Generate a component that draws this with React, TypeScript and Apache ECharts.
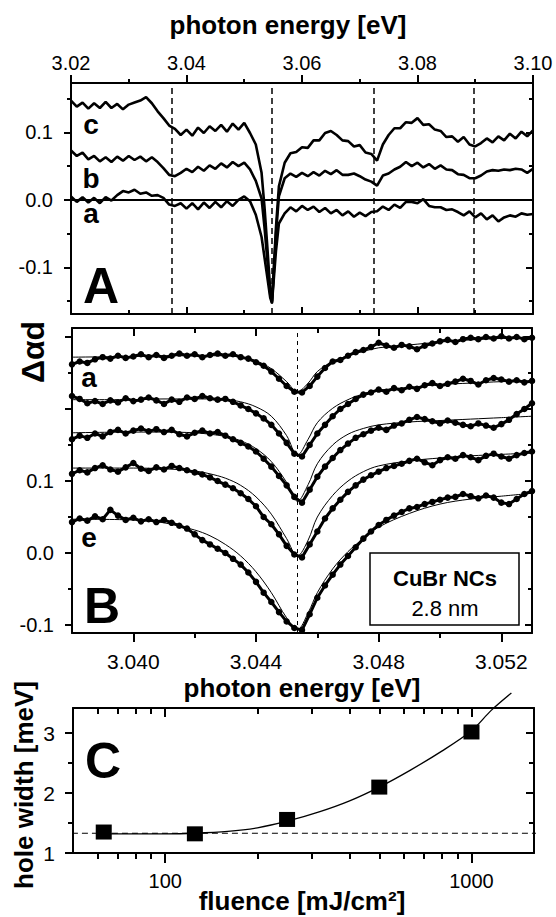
import React, { useEffect, useRef } from 'react';
import * as echarts from 'echarts';

const FONT = '"Liberation Sans", Arial, Helvetica, sans-serif';

// ---------- Panel A ----------
const aEnergy = [
  3.020, 3.021, 3.022, 3.023, 3.024, 3.025, 3.026, 3.027, 3.028, 3.029,
  3.030, 3.031, 3.032, 3.033, 3.034, 3.035, 3.036, 3.037, 3.038, 3.039,
  3.040, 3.041, 3.042, 3.043, 3.044, 3.045, 3.046, 3.047, 3.048, 3.049,
  3.050, 3.051, 3.052, 3.053,
  3.0535, 3.054, 3.0545, 3.0548, 3.055, 3.0555,
  3.056, 3.057, 3.058, 3.059, 3.060, 3.061, 3.062, 3.063, 3.064, 3.065,
  3.066, 3.067, 3.068, 3.069, 3.070, 3.071, 3.072, 3.073, 3.074, 3.075,
  3.076, 3.077, 3.078, 3.079, 3.080, 3.081, 3.082, 3.083, 3.084, 3.085,
  3.086, 3.087, 3.088, 3.089, 3.090, 3.091, 3.092, 3.093, 3.094, 3.095,
  3.096, 3.097, 3.098, 3.099, 3.100,
];
const aCurveC = [
  0.147, 0.138, 0.144, 0.135, 0.143, 0.136, 0.145, 0.136, 0.142, 0.134,
  0.141, 0.144, 0.147, 0.152, 0.143, 0.131, 0.121, 0.110, 0.105, 0.096,
  0.104, 0.095, 0.107, 0.099, 0.109, 0.102, 0.111, 0.101, 0.113, 0.104,
  0.114, 0.099, 0.082, 0.040,
  -0.010, -0.070, -0.135, -0.150, -0.120, -0.040,
  0.020, 0.055, 0.069, 0.071, 0.078, 0.077, 0.088, 0.088, 0.099, 0.102,
  0.096, 0.088, 0.087, 0.079, 0.081, 0.070, 0.068, 0.058, 0.082, 0.096,
  0.106, 0.106, 0.115, 0.114, 0.121, 0.111, 0.112, 0.104, 0.102, 0.093,
  0.094, 0.086, 0.093, 0.082, 0.079, 0.084, 0.091, 0.085, 0.094, 0.088,
  0.098, 0.091, 0.101, 0.094, 0.103,
];
const aCurveB = [
  0.073, 0.065, 0.070, 0.060, 0.065, 0.057, 0.063, 0.056, 0.064, 0.058,
  0.065, 0.059, 0.064, 0.057, 0.063, 0.056, 0.047, 0.037, 0.035, 0.040,
  0.046, 0.041, 0.049, 0.043, 0.051, 0.046, 0.054, 0.048, 0.056, 0.050,
  0.055, 0.045, 0.028, 0.002,
  -0.040, -0.090, -0.140, -0.152, -0.125, -0.050,
  0.005, 0.032, 0.039, 0.034, 0.040, 0.035, 0.041, 0.036, 0.043, 0.038,
  0.044, 0.037, 0.037, 0.039, 0.035, 0.030, 0.027, 0.021, 0.036, 0.039,
  0.045, 0.049, 0.056, 0.050, 0.055, 0.048, 0.053, 0.046, 0.051, 0.045,
  0.044, 0.038, 0.037, 0.032, 0.032, 0.036, 0.042, 0.044, 0.043, 0.045,
  0.044, 0.046, 0.045, 0.040, 0.046,
];
const aCurveA = [
  0.005, -0.003, 0.004, -0.004, 0.003, -0.005, 0.004, -0.001, 0.007, 0.013,
  0.011, 0.015, 0.009, 0.011, 0.006, 0.007, 0.003, -0.007, -0.009, -0.005,
  -0.013, -0.005, -0.014, -0.004, -0.012, -0.003, -0.011, -0.002, -0.009, 0.000,
  0.005, -0.002, -0.022, -0.055,
  -0.085, -0.115, -0.145, -0.153, -0.130, -0.075,
  -0.035, -0.020, -0.011, -0.017, -0.009, -0.015, -0.010, -0.018, -0.012, -0.020,
  -0.015, -0.023, -0.017, -0.025, -0.019, -0.024, -0.018, -0.017, -0.010, -0.015,
  -0.007, -0.012, -0.003, -0.003, -0.005, 0.001, -0.009, -0.011, -0.011, -0.015,
  -0.014, -0.018, -0.023, -0.017, -0.026, -0.020, -0.029, -0.023, -0.032, -0.026,
  -0.023, -0.025, -0.020, -0.022, -0.021,
];
const aDashedLines = [3.0375, 3.0548, 3.0725, 3.0897];
const aXTicks = [3.02, 3.04, 3.06, 3.08, 3.10];
const aXMinor = [3.03, 3.05, 3.07, 3.09];
const aYTicks = [-0.1, 0.0, 0.1];
const aYMinor = [-0.15, -0.05, 0.05, 0.15];

// ---------- Panel B ----------
const bEnergy = [
  3.038, 3.03825, 3.0385, 3.03875, 3.039, 3.03925, 3.0395, 3.03975,
  3.040, 3.04025, 3.0405, 3.04075, 3.041, 3.04125, 3.0415, 3.04175,
  3.042, 3.04225, 3.0425, 3.04275, 3.043, 3.04325, 3.0435, 3.04375,
  3.044, 3.04425, 3.0445, 3.04475, 3.045, 3.04525, 3.0455, 3.04575,
  3.046, 3.04625, 3.0465, 3.04675, 3.047, 3.04725, 3.0475, 3.04775,
  3.048, 3.04825, 3.0485, 3.04875, 3.049, 3.04925, 3.0495, 3.04975,
  3.050, 3.05025, 3.0505, 3.05075, 3.051, 3.05125, 3.0515, 3.05175,
  3.052, 3.05225, 3.0525, 3.05275, 3.053,
];
const bCurveA = [
  0.262, 0.266, 0.264, 0.269, 0.272, 0.270, 0.274, 0.271, 0.273, 0.276,
  0.272, 0.275, 0.271, 0.274, 0.277, 0.274, 0.276, 0.272, 0.275, 0.277,
  0.274, 0.276, 0.272, 0.270, 0.265, 0.260, 0.252, 0.242, 0.232, 0.224,
  0.223, 0.232, 0.245, 0.257, 0.266, 0.268, 0.274, 0.279, 0.282, 0.286,
  0.292, 0.288, 0.285, 0.289, 0.287, 0.283, 0.288, 0.291, 0.294, 0.296,
  0.293, 0.297, 0.299, 0.297, 0.300, 0.298, 0.301, 0.298, 0.300, 0.297,
  0.299,
];
const bCurveB = [
  0.218, 0.214, 0.208, 0.211, 0.207, 0.212, 0.209, 0.215, 0.211, 0.213,
  0.216, 0.212, 0.207, 0.213, 0.210, 0.216, 0.214, 0.218, 0.215, 0.213,
  0.214, 0.210, 0.205, 0.200, 0.194, 0.187, 0.178, 0.166, 0.153, 0.138,
  0.134, 0.150, 0.166, 0.178, 0.190, 0.200, 0.207, 0.214, 0.220, 0.223,
  0.227, 0.224, 0.229, 0.226, 0.231, 0.228, 0.233, 0.236, 0.232, 0.235,
  0.238, 0.242, 0.239, 0.234, 0.240, 0.243, 0.241, 0.238, 0.240, 0.237,
  0.239,
];
const bCurveC = [
  0.158, 0.163, 0.160, 0.166, 0.162, 0.168, 0.171, 0.166, 0.170, 0.173,
  0.169, 0.172, 0.168, 0.171, 0.165, 0.162, 0.167, 0.170, 0.166, 0.168,
  0.163, 0.158, 0.153, 0.148, 0.141, 0.131, 0.120, 0.107, 0.094, 0.078,
  0.070, 0.088, 0.106, 0.120, 0.132, 0.143, 0.152, 0.160, 0.165, 0.170,
  0.174, 0.171, 0.177, 0.180, 0.185, 0.189, 0.186, 0.183, 0.180, 0.184,
  0.181, 0.178, 0.176, 0.180, 0.177, 0.174, 0.179, 0.185, 0.193, 0.200,
  0.208,
];
const bCurveD = [
  0.110, 0.115, 0.112, 0.118, 0.122, 0.116, 0.113, 0.119, 0.125, 0.117,
  0.114, 0.119, 0.116, 0.121, 0.118, 0.115, 0.112, 0.109, 0.105, 0.100,
  0.095, 0.090, 0.083, 0.075, 0.065, 0.050, 0.040, 0.026, 0.010, -0.002,
  -0.006, 0.012, 0.030, 0.048, 0.062, 0.074, 0.085, 0.094, 0.102, 0.108,
  0.113, 0.118, 0.121, 0.124, 0.128, 0.131, 0.126, 0.122, 0.129, 0.133,
  0.131, 0.136, 0.133, 0.129, 0.135, 0.138, 0.134, 0.131, 0.136, 0.139,
  0.141,
];
const bCurveE = [
  0.043, 0.048, 0.045, 0.051, 0.047, 0.060, 0.052, 0.046, 0.049, 0.044,
  0.047, 0.043, 0.046, 0.042, 0.038, 0.034, 0.026, 0.018, 0.012, 0.006,
  0.000, -0.008, -0.016, -0.027, -0.040, -0.055, -0.068, -0.082, -0.095, -0.104,
  -0.107, -0.085, -0.062, -0.045, -0.030, -0.016, -0.004, 0.008, 0.020, 0.030,
  0.039, 0.046, 0.052, 0.057, 0.062, 0.064, 0.068, 0.071, 0.074, 0.077,
  0.078, 0.082, 0.079, 0.076, 0.080, 0.077, 0.070, 0.068, 0.075, 0.082,
  0.086,
];
const bFitEnergy = [
  3.038, 3.040, 3.041, 3.042, 3.0425, 3.043, 3.0435, 3.044, 3.0445, 3.045, 3.04535,
  3.0457, 3.046, 3.0465, 3.047, 3.0475, 3.048, 3.049, 3.050, 3.051, 3.052, 3.053,
];
const bFitA = [0.272, 0.273, 0.274, 0.274, 0.274, 0.274, 0.272, 0.267, 0.256, 0.238, 0.224, 0.236, 0.252, 0.266, 0.274, 0.280, 0.285, 0.289, 0.293, 0.296, 0.298, 0.299];
const bFitB = [0.213, 0.213, 0.214, 0.214, 0.214, 0.213, 0.210, 0.203, 0.190, 0.163, 0.136, 0.158, 0.181, 0.201, 0.213, 0.221, 0.226, 0.230, 0.234, 0.236, 0.238, 0.239];
const bFitC = [0.167, 0.168, 0.168, 0.167, 0.165, 0.162, 0.156, 0.145, 0.127, 0.098, 0.072, 0.095, 0.124, 0.150, 0.165, 0.173, 0.178, 0.182, 0.184, 0.186, 0.188, 0.190];
const bFitD = [0.118, 0.118, 0.117, 0.114, 0.110, 0.104, 0.094, 0.078, 0.054, 0.020, -0.004, 0.018, 0.050, 0.080, 0.100, 0.113, 0.121, 0.128, 0.132, 0.135, 0.137, 0.139];
const bFitE = [0.047, 0.046, 0.042, 0.032, 0.024, 0.012, -0.004, -0.026, -0.055, -0.090, -0.106, -0.083, -0.055, -0.022, 0.002, 0.020, 0.036, 0.055, 0.068, 0.075, 0.079, 0.083];
const bHoleCenter = 3.04535;
const bXTicks = [3.040, 3.044, 3.048, 3.052];
const bXMinor = [3.042, 3.046, 3.050];
const bYTicks = [-0.1, 0.0, 0.1, 0.2, 0.3];
const bYLabels = [-0.1, 0.0, 0.1];
const bYMinor = [-0.05, 0.05, 0.15, 0.25];

// ---------- Panel C ----------
const cFluence = [63, 125, 250, 500, 1000];
const cHoleWidth = [1.35, 1.32, 1.56, 2.1, 3.02];
const cFitFluence = [63, 80, 100, 125, 160, 200, 250, 320, 400, 500, 630, 800, 1000, 1160, 1350];
const cFitWidth = [1.32, 1.32, 1.32, 1.33, 1.36, 1.42, 1.53, 1.69, 1.87, 2.10, 2.38, 2.70, 3.04, 3.38, 3.67];
const cBaselineFluence = [46, 1690];
const cBaselineWidth = [1.33, 1.33];
const cXTicks = [100, 1000];
const cXMinor = [60, 70, 80, 90, 200, 300, 400, 500, 600, 700, 800, 900];
const cYTicks = [1, 2, 3];
const cYMinor = [1.5, 2.5];

const zip = (xs: number[], ys: number[]) => xs.map((x, i) => [x, ys[i]]);

function axis(grid: number, position: string, min: number, max: number, o: any) {
  const type = o.type || 'value';
  const a: any = {
    type,
    gridIndex: grid,
    position,
    min,
    max,
    axisLine: { show: !!o.line, onZero: false, lineStyle: { color: '#000', width: 2 } },
    axisTick: {
      show: true,
      inside: !!o.inside,
      length: o.len,
      customValues: o.ticks,
      lineStyle: { color: '#000', width: 2 },
    },
    axisLabel: o.labels
      ? {
          show: true,
          customValues: o.labels,
          formatter: o.fmt,
          color: '#000',
          fontSize: o.fontSize || 20,
          fontFamily: FONT,
          margin: o.margin ?? 8,
        }
      : { show: false },
    splitLine: { show: false },
    minorTick: { show: false },
  };
  if (type === 'log') a.logBase = 10;
  return a;
}

export default function App() {
  const ref = useRef<HTMLDivElement>(null);
  useEffect(() => {
    document.body.style.margin = '0';
    const chart = echarts.init(ref.current!, undefined, { renderer: 'svg' });

    const grids = [
      { left: 71, top: 83, width: 462, height: 231 },
      { left: 72, top: 328, width: 460, height: 305 },
      { left: 73, top: 708, width: 461, height: 145 },
    ].map((g) => ({ ...g, containLabel: false, outerBoundsMode: 'none', show: false }));

    const aX = [3.02, 3.1];
    const aY = [-0.169, 0.173];
    const bX = [3.038, 3.053];
    const bY = [-0.111, 0.3125];
    const cX = [50, 1600];
    const cY = [1, 3.42];
    const f2 = (v: number) => v.toFixed(2);
    const f3 = (v: number) => v.toFixed(3);
    const f1 = (v: number) => v.toFixed(1);
    const fi = (v: number) => String(Math.round(v));

    const xAxis = [
      // A
      axis(0, 'bottom', aX[0], aX[1], { line: true, inside: true, len: 7, ticks: aXTicks }),
      axis(0, 'bottom', aX[0], aX[1], { inside: true, len: 4, ticks: aXMinor }),
      axis(0, 'top', aX[0], aX[1], { line: true, len: 8, ticks: aXTicks, labels: aXTicks, fmt: f2, margin: 10 }),
      axis(0, 'top', aX[0], aX[1], { len: 4, ticks: aXMinor }),
      // B
      axis(1, 'bottom', bX[0], bX[1], { line: true, len: 9, ticks: bXTicks, labels: bXTicks, fmt: f3, margin: 18, fontSize: 21 }),
      axis(1, 'bottom', bX[0], bX[1], { len: 5, ticks: bXMinor }),
      axis(1, 'top', bX[0], bX[1], { line: true, inside: true, len: 8, ticks: bXTicks }),
      axis(1, 'top', bX[0], bX[1], { inside: true, len: 5, ticks: bXMinor }),
      // C
      axis(2, 'bottom', cX[0], cX[1], { type: 'log', line: true, len: 10, ticks: cXTicks, labels: cXTicks, fmt: fi, margin: 18 }),
      axis(2, 'bottom', cX[0], cX[1], { type: 'log', len: 6, ticks: cXMinor }),
      axis(2, 'top', cX[0], cX[1], { type: 'log', line: true, inside: true, len: 9, ticks: cXTicks }),
      axis(2, 'top', cX[0], cX[1], { type: 'log', inside: true, len: 6, ticks: cXMinor }),
    ];
    const yAxis = [
      // A
      axis(0, 'left', aY[0], aY[1], { line: true, len: 7, ticks: aYTicks, labels: aYTicks, fmt: f1, margin: 18 }),
      axis(0, 'left', aY[0], aY[1], { len: 4, ticks: aYMinor }),
      axis(0, 'right', aY[0], aY[1], { line: true, inside: true, len: 7, ticks: aYTicks }),
      axis(0, 'right', aY[0], aY[1], { inside: true, len: 4, ticks: aYMinor }),
      // B
      axis(1, 'left', bY[0], bY[1], { line: true, len: 7, ticks: bYTicks, labels: bYLabels, fmt: f1, margin: 18 }),
      axis(1, 'left', bY[0], bY[1], { len: 4, ticks: bYMinor }),
      axis(1, 'right', bY[0], bY[1], { line: true, inside: true, len: 7, ticks: bYTicks }),
      axis(1, 'right', bY[0], bY[1], { inside: true, len: 4, ticks: bYMinor }),
      // C
      axis(2, 'left', cY[0], cY[1], { line: true, len: 8, ticks: cYTicks, labels: cYTicks, fmt: fi, margin: 18, fontSize: 21 }),
      axis(2, 'left', cY[0], cY[1], { len: 5, ticks: cYMinor }),
      axis(2, 'right', cY[0], cY[1], { line: true, inside: true, len: 8, ticks: cYTicks }),
      axis(2, 'right', cY[0], cY[1], { inside: true, len: 5, ticks: cYMinor }),
    ];

    const aLine = (name: string, vals: number[], extra: any = {}) => ({
      name,
      type: 'line',
      xAxisIndex: 0,
      yAxisIndex: 0,
      data: zip(aEnergy, vals),
      symbol: 'none',
      lineStyle: { color: '#000', width: 2.6 },
      z: 3,
      ...extra,
    });
    const bData = (name: string, vals: number[], extra: any = {}) => ({
      name,
      type: 'line',
      xAxisIndex: 4,
      yAxisIndex: 4,
      data: zip(bEnergy, vals),
      symbol: 'circle',
      symbolSize: 6.5,
      showSymbol: true,
      itemStyle: { color: '#000', opacity: 1 },
      lineStyle: { color: '#000', width: 3 },
      z: 3,
      ...extra,
    });
    const bFit = (name: string, vals: number[]) => ({
      name,
      type: 'line',
      xAxisIndex: 4,
      yAxisIndex: 4,
      data: zip(bFitEnergy, vals),
      symbol: 'none',
      smooth: 0.35,
      lineStyle: { color: '#000', width: 1 },
      z: 4,
    });

    const series: any[] = [
      aLine('A c', aCurveC, {
        markLine: {
          silent: true,
          symbol: 'none',
          precision: 6,
          animation: false,
          label: { show: false },
          data: [
            ...aDashedLines.map((x) => ({ xAxis: x, lineStyle: { color: '#000', width: 1.5, type: [6, 4] } })),
            { yAxis: 0, lineStyle: { color: '#000', width: 2, type: 'solid' } },
          ],
        },
      }),
      aLine('A b', aCurveB),
      aLine('A a', aCurveA),
      bData('B a', bCurveA, {
        markLine: {
          silent: true,
          symbol: 'none',
          precision: 6,
          animation: false,
          label: { show: false },
          lineStyle: { color: '#000', width: 1, type: [4, 4] },
          data: [{ xAxis: bHoleCenter }],
        },
      }),
      bData('B b', bCurveB),
      bData('B c', bCurveC),
      bData('B d', bCurveD),
      bData('B e', bCurveE),
      bFit('fit a', bFitA),
      bFit('fit b', bFitB),
      bFit('fit c', bFitC),
      bFit('fit d', bFitD),
      bFit('fit e', bFitE),
      {
        name: 'baseline',
        type: 'line',
        xAxisIndex: 8,
        yAxisIndex: 8,
        data: zip(cBaselineFluence, cBaselineWidth),
        symbol: 'none',
        clip: false,
        lineStyle: { color: '#000', width: 1.2, type: [6, 4] },
        z: 2,
      },
      {
        name: 'fit',
        type: 'line',
        xAxisIndex: 8,
        yAxisIndex: 8,
        data: zip(cFitFluence, cFitWidth),
        symbol: 'none',
        smooth: 0.3,
        clip: false,
        lineStyle: { color: '#000', width: 1.3 },
        z: 3,
      },
      {
        name: 'hole width',
        type: 'scatter',
        xAxisIndex: 8,
        yAxisIndex: 8,
        data: zip(cFluence, cHoleWidth),
        symbol: 'rect',
        symbolSize: [16, 15],
        itemStyle: { color: '#000', opacity: 1 },
        z: 5,
      },
    ];

    const txt = (text: string, x: number, y: number, font: string, extra: any = {}) => ({
      type: 'text',
      x,
      y,
      z: 20,
      silent: true,
      style: { text, font, fill: '#000', align: 'center', verticalAlign: 'middle' },
      ...extra,
    });
    const bold = (s: number) => `bold ${s}px ${FONT}`;
    const reg = (s: number) => `${s}px ${FONT}`;

    const graphic: any[] = [
      txt('photon energy [eV]', 288, 25, bold(26)),
      txt('c', 91, 124, bold(28)),
      txt('b', 91, 178, bold(28)),
      txt('a', 91, 213, bold(28)),
      txt('A', 101, 286, bold(50)),
      txt('Δαd', 33, 352, bold(32), { rotation: Math.PI / 2 }),
      txt('a', 89, 377, bold(28)),
      txt('e', 89, 537, bold(28)),
      txt('B', 102, 606, bold(50)),
      {
        type: 'rect',
        z: 20,
        silent: true,
        shape: { x: 370, y: 553, width: 149, height: 72 },
        style: { fill: '#fff', stroke: '#000', lineWidth: 1.5 },
      },
      txt('CuBr NCs', 445, 578, bold(22)),
      txt('2.8 nm', 445, 608, reg(22)),
      txt('photon energy [eV]', 302, 688, bold(26)),
      txt('C', 103, 761, bold(50)),
      txt('hole width [meV]', 24, 785, bold(26), { rotation: Math.PI / 2 }),
      txt('fluence [mJ/cm²]', 302, 901, bold(26)),
    ];

    chart.setOption({
      animation: false,
      backgroundColor: '#fff',
      textStyle: { fontFamily: FONT },
      grid: grids,
      xAxis,
      yAxis,
      series,
      graphic,
    });
    return () => chart.dispose();
  }, []);
  return <div ref={ref} style={{ position: 'fixed', left: 0, top: 0, width: 556, height: 917, background: '#fff' }} />;
}
